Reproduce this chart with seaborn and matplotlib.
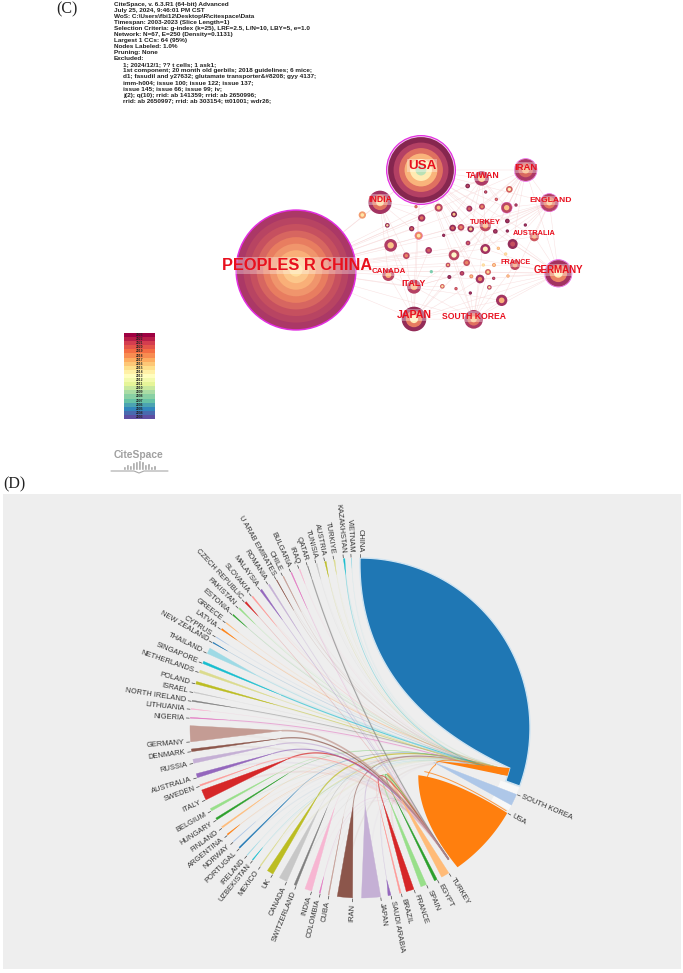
import numpy as np
import pandas as pd
import matplotlib
matplotlib.use('Agg')
import matplotlib.pyplot as plt
from matplotlib.colors import LinearSegmentedColormap
import seaborn as sns

# panel C header text
info_lines = ['CiteSpace, v. 6.3.R1 (64-bit) Advanced', 'July 25, 2024, 9:46:01 PM CST',
              'WoS: C:\\Users\\fbi12\\Desktop\\R\\citespace\\Data', 'Timespan: 2003-2023 (Slice Length=1)',
              'Selection Criteria: g-index (k=25), LRF=2.5, L/N=10, LBY=5, e=1.0',
              'Network: N=67, E=250 (Density=0.1131)', 'Largest 1 CCs: 64 (95%)', 'Nodes Labeled: 1.0%',
              'Pruning: None', 'Excluded:']
excluded_lines = ['1; 2024/12/1; ?? t cells; 1 ask1;',
                  '1st component; 20 month old gerbils; 2018 guidelines; 6 mice;',
                  'd1; fasudil and y27632; glutamate transporter&#8208; gyy 4137;',
                  'imm-h004; issue 100; issue 122; issue 137;',
                  'issue 145; issue 66; issue 99; iv;',
                  'j(2); q(10); rrid: ab 141359; rrid: ab 2650996;',
                  'rrid: ab 2650997; rrid: ab 303154; tt01001; wdr26;']

# network nodes, read in a 1200x660 frame of the network area
node_x = [258, 633, 510, 815, 947, 1018, 1045, 612, 791, 612, 535, 915, 973, 826,
          773, 827, 859, 898, 890, 918, 816, 778, 686, 618, 457, 635, 532, 605, 626, 732,
          892, 946, 728, 753, 782, 856, 892, 701, 542, 656, 589, 774, 826, 908, 865, 732,
          887, 770, 714, 820, 852, 664, 834, 756, 718, 784, 810, 851, 894, 697, 738, 781, 838, 875]
node_y = [435, 135, 232, 160, 135, 233, 445, 582, 583, 485, 450, 420, 335, 302,
          183, 201, 223, 193, 248, 240, 245, 251, 248, 245, 270, 279, 301, 311, 332, 268,
          288, 300, 309, 307, 312, 319, 318, 331, 361, 376, 392, 354, 372, 357, 370, 390,
          387, 413, 420, 420, 420, 440, 441, 445, 456, 454, 462, 460, 453, 484, 491, 504, 487, 526]
node_r = [182, 105, 35, 22, 35, 28, 42, 37, 28, 21, 18, 15, 14, 17,
          7, 5, 5, 10, 17, 5, 9, 9, 12, 5, 11, 11, 7, 8, 12, 9,
          7, 5, 10, 10, 10, 7, 5, 5, 19, 10, 10, 7, 15, 15, 5, 16,
          5, 10, 7, 5, 6, 5, 9, 7, 6, 6, 13, 5, 5, 7, 5, 5, 7, 17]
node_outer = [0.13, 0.0, 0.1, 0.14, 0.14, 0.17, 0.1, 0.05, 0.14, 0.17, 0.2, 0.22, 0.27, 0.22,
              0.0, 0.05, 0.2, 0.3, 0.2, 0.05, 0.2, 0.1, 0.2, 0.3, 0.45, 0.1, 0.05, 0.05, 0.4, 0.0,
              0.0, 0.0, 0.05, 0.2, 0.05, 0.0, 0.0, 0.0, 0.15, 0.12, 0.2, 0.12, 0.1, 0.05, 0.5, 0.2,
              0.58, 0.25, 0.2, 0.6, 0.45, 0.95, 0.3, 0.1, 0.0, 0.4, 0.1, 0.1, 0.45, 0.3, 0.2, 0.0, 0.2, 0.1]
node_inner = [0.62, 0.85, 0.6, 0.55, 0.5, 0.55, 0.68, 0.7, 0.55, 0.5, 0.5, 0.45, 0.45, 0.5,
              0.2, 0.3, 0.4, 0.7, 0.55, 0.2, 0.4, 0.3, 0.55, 0.35, 0.65, 0.35, 0.62, 0.3, 0.66, 0.55,
              0.1, 0.1, 0.3, 0.4, 0.55, 0.15, 0.1, 0.1, 0.55, 0.3, 0.4, 0.3, 0.7, 0.25, 0.6, 0.75,
              0.64, 0.4, 0.5, 0.66, 0.6, 0.98, 0.6, 0.25, 0.1, 0.55, 0.4, 0.3, 0.6, 0.65, 0.35, 0.1, 0.66, 0.5]
purple_nodes = [0, 1, 4, 5, 6, 18, 28]

net_labels = ['PEOPLES R CHINA', 'USA', 'INDIA', 'TAIWAN', 'IRAN', 'ENGLAND', 'GERMANY', 'JAPAN',
              'SOUTH KOREA', 'ITALY', 'CANADA', 'FRANCE', 'AUSTRALIA', 'TURKEY']
label_x = [260, 636, 510, 817, 949, 1021, 1046, 614, 792, 612, 537, 917, 973, 827]
label_y = [422, 122, 224, 151, 127, 226, 435, 571, 575, 477, 441, 412, 326, 292]
label_pt = [11.8, 9.6, 6.2, 6.2, 6.8, 6.1, 7, 7.6, 6.2, 6.4, 5.7, 5.2, 5.3, 5.4]

# which node links to which, hand picked along the visible edges
hub_links = {
    0: [1, 2, 3, 4, 5, 6, 7, 8, 9, 10, 11, 12, 13, 22, 25, 27, 29, 32, 38, 39, 40, 42, 45, 47, 52, 56, 63],
    1: [2, 3, 4, 5, 6, 7, 8, 9, 11, 12, 13, 18, 20, 21, 29, 33, 42, 45, 47, 56],
    4: [5, 6, 13, 17, 18, 20, 30, 32, 34, 35, 42, 43],
    5: [6, 12, 13, 18, 30, 31, 34, 35, 42, 43, 45, 63],
    6: [7, 8, 11, 12, 13, 42, 43, 45, 52, 56, 58, 62, 63],
    7: [8, 9, 10, 38, 40, 45, 47, 56, 59, 63],
    8: [9, 11, 13, 45, 52, 56, 60, 61, 62, 63],
    2: [10, 25, 26, 27, 38, 40, 23],
    3: [13, 14, 15, 16, 18, 21, 29, 34],
    13: [32, 33, 34, 41, 42, 45, 47, 48],
    9: [10, 38, 39, 48, 53, 54, 59],
}

# colour bar years
years = list(range(2023, 2002, -1))
logo_heights = [4, 6, 5, 8, 9, 10, 9, 6, 7, 4, 5]

# panel D, angles run clockwise from the top, in degrees
countries = ['CHINA', 'SOUTH KOREA', 'USA', 'TURKEY', 'EGYPT', 'SPAIN', 'FRANCE', 'BRAZIL', 'SAUDI ARABIA',
             'JAPAN', 'IRAN', 'CUBA', 'COLOMBIA', 'INDIA', 'SWITZERLAND', 'CANADA', 'UK', 'MEXICO',
             'UZBEKISTAN', 'IRELAND', 'PORTUGAL', 'NORWAY', 'ARGENTINA', 'FINLAND', 'HUNGARY', 'BELGIUM',
             'ITALY', 'SWEDEN', 'AUSTRALIA', 'RUSSIA', 'DENMARK', 'GERMANY', 'NIGERIA', 'LITHUANIA',
             'NORTH IRELAND', 'ISRAEL', 'POLAND', 'NETHERLANDS', 'SINGAPORE', 'THAILAND', 'NEW ZEALAND',
             'CYPRUS', 'LATVIA', 'GREECE', 'ESTONIA', 'PAKISTAN', 'CZECH REPUBLIC', 'SLOVAKIA', 'MALAYSIA',
             'ROMANIA', 'U ARAB EMIRATES', 'CHILE', 'BULGARIA', 'IRAQ', 'QATAR', 'TUNISIA', 'AUSTRIA',
             'TURKIYE', 'KAZAKHSTAN', 'VIETNAM']
start_angle = [0, 113, 120, 148.5, 153, 157, 161.5, 166, 169.5, 173, 182.5, 190.5, 193.5, 196.5, 202, 205.5,
               210.8, 215.7, 219, 221.5, 225, 228, 231, 234, 237.3, 240.8, 245, 250, 253, 258, 262, 265.3,
               273.3, 276.3, 279, 282, 285, 289, 292.3, 296, 300, 302.2, 305.3, 308, 311.5, 314.5, 317.4,
               320.5, 324, 327.3, 330.5, 333, 336, 339, 342, 345, 348, 351.1, 354.4, 357]
span = [110, 4, 25, 2.8, 1, 2, 2.7, 0.5, 1.0, 6.5, 5.2, 0.3, 0.4, 2.4, 0.8, 2.8, 2.2, 0.3, 0.3, 0.2, 0.4, 0.2,
        0.4, 0.5, 0.7, 0.9, 3.6, 0.5, 1.4, 1.4, 0.9, 5.5, 0.3, 0.3, 0.4, 0.3, 0.9, 0.9, 0.8, 2.0, 0.3, 0.2, 0.5,
        0.3, 0.4, 0.5, 0.6, 0.4, 0.7, 0.5, 0.2, 0.3, 0.3, 0.3, 0.2, 0.4, 0.5, 0.4, 0.5, 0.2]
stub_radius = [0, 81, 75, 81, 80, 78, 78, 84, 154, 78, 78, 90, 153, 84, 86, 91, 79, 130, 154, 150, 87, 140,
               154, 111, 85, 94, 78, 110, 90, 85, 80, 78, 130, 150, 125, 135, 86, 86, 85, 115, 153, 155, 151,
               154, 151, 147, 151, 131, 133, 110, 135, 130, 130, 154, 155, 154, 154, 155, 154, 160]
link_angle = [0, 0, 0, 146, 146, 146, 146, 146, 146, 107, 107, 146, 146, 107, 107, 106, 106, 106, 107, 106,
              106, 107, 106, 106, 107, 107, 146, 146, 146, 146, 146, 146, 108, 106, 107, 105, 108, 108, 107, 108,
              107, 106, 106, 108, 107, 106, 146, 108, 146, 146, 107, 108, 146, 108, 146, 107, 108, 106, 108, 106]
link_width = [0, 0, 0, 1.2, 0.7, 0.8, 0.8, 0.4, 0.3, 0.7, 0.7, 0.3, 0.3, 0.4, 0.4, 0.4, 0.9, 0.7, 0.3, 0.3,
              0.5, 0.3, 0.3, 0.4, 0.4, 0.5, 0.9, 0.8, 0.8, 0.9, 0.9, 1.2, 0.7, 0.3, 0.6, 0.3, 0.6, 0.6, 0.8, 0.7,
              0.3, 0.3, 0.4, 0.3, 0.3, 0.4, 0.3, 0.4, 0.4, 0.5, 0.3, 0.4, 0.4, 0.3, 0.8, 0.3, 0.3, 0.3, 0.5, 0.3]

CX, CY, R = 360, 728, 170

sns.set_theme(style='white')
plt.rcParams['font.family'] = ['Liberation Sans', 'DejaVu Sans']

fig = plt.figure(figsize=(6.83, 9.73), dpi=100)
W, H = 683, 973


def axes_at(x0, y0, x1, y1):
    a = fig.add_axes([x0 / W, 1 - y1 / H, (x1 - x0) / W, (y1 - y0) / H])
    a.patch.set_alpha(0)
    return a


ax = axes_at(0, 0, W, H)
ax.add_patch(plt.Rectangle((2.5, 494), 678.5, 475, color='#eeeeee', lw=0, zorder=0))

# header
ax.text(56, 9.5, '(C)', family='Liberation Serif', fontsize=11.5, color='#222222', va='center')
ax.text(3, 484, '(D)', family='Liberation Serif', fontsize=11.5, color='#222222', va='center')
for i, line in enumerate(info_lines):
    ax.text(114, 4.7 + i * 5.98, line, fontsize=4.62, weight='bold', color='#222222', va='center')
for i, line in enumerate(excluded_lines):
    ax.text(123, 64.5 + i * 6.1, line, fontsize=4.62, weight='bold', color='#222222', va='center')


# chord diagram
def polar(theta, r):
    t = np.radians(theta)
    return CX + r * np.sin(t), CY - r * np.cos(t)


def quad(p0, p1, ctrl=(CX, CY), n=60):
    t = np.linspace(0, 1, n)[:, None]
    p0, p1, ctrl = np.array(p0), np.array(p1), np.array(ctrl)
    return (1 - t) ** 2 * p0 + 2 * t * (1 - t) * ctrl + t ** 2 * p1


def arc(a0, a1, r, n=80):
    t = np.linspace(a0, a1, n)
    return np.column_stack(polar(t, r))


palette = sns.color_palette('tab20', 20)
colors = [palette[i % 20] for i in range(len(countries))]

# pale links first
for i, name in enumerate(countries):
    if link_width[i] == 0:
        continue
    mid = start_angle[i] + span[i] / 2
    end_r = 158 if link_angle[i] == 146 else 150
    pts = quad(polar(mid, stub_radius[i]), polar(link_angle[i], end_r))
    sns.lineplot(x=pts[:, 0], y=pts[:, 1], sort=False, estimator=None, color=colors[i],
                 lw=link_width[i], alpha=min(0.75, link_width[i] * 0.8), ax=ax, zorder=3)
    pts = quad(polar(mid, R - 4), polar(link_angle[i], end_r))
    sns.lineplot(x=pts[:, 0], y=pts[:, 1], sort=False, estimator=None, color=colors[i],
                 lw=link_width[i] * 1.5, alpha=0.07, ax=ax, zorder=2)

# China self ribbon with notch for the USA link
outer = arc(0, 110, R)
notch = arc(110, 105, 155)
back = quad(polar(105, 155), polar(0, R), ctrl=(CX - 3, CY - 30))
china = np.vstack([outer, notch, back])
ax.fill(china[:, 0], china[:, 1], color=colors[0], ec='#cfe4f2', lw=1.0, zorder=4)

# pale gap behind South Korea
gap = np.vstack([arc(110.5, 119, R), arc(119, 110.5, 150)])
ax.fill(gap[:, 0], gap[:, 1], color='#f8f8f8', lw=0, zorder=3)

# USA wedge, thin outline and USA-China link
tip = polar(129, 75)
edge_a = quad(polar(120, R), tip, ctrl=polar(118.7, 108))
edge_b = quad(tip, polar(145, R), ctrl=polar(147.5, 108))
usa = np.vstack([arc(145, 120, R), edge_a, edge_b])
ax.fill(usa[:, 0], usa[:, 1], color=colors[2], lw=0, zorder=4)
loop_a = quad(polar(144, R - 5), polar(116, 84), ctrl=polar(140, 76))
loop_b = quad(polar(116, 84), polar(106, 153), ctrl=polar(108, 82))
loop_c = quad(polar(119.5, R - 2), polar(124, 78), ctrl=polar(118, 106))
for p in (loop_a, loop_b, loop_c):
    sns.lineplot(x=p[:, 0], y=p[:, 1], sort=False, estimator=None, color=colors[2], lw=0.7, alpha=0.75,
                 ax=ax, zorder=5)
link = np.vstack([arc(105, 108, 155), [polar(114, 80)]])
ax.fill(link[:, 0], link[:, 1], color=colors[2], lw=0, zorder=5)

# the other sectors taper off towards the middle
for i, name in enumerate(countries):
    if name in ('CHINA', 'USA'):
        continue
    a0, a1 = start_angle[i], start_angle[i] + span[i]
    pts = np.vstack([arc(a0, a1, R, n=12), [polar((a0 + a1) / 2, stub_radius[i])]])
    ax.fill(pts[:, 0], pts[:, 1], color=colors[i], ec=colors[i], lw=0.25, zorder=6)

# ticks and labels
for i, name in enumerate(countries):
    theta = start_angle[i]
    x0, y0 = polar(theta, R + 1)
    x1, y1 = polar(theta, R + 4)
    ax.plot([x0, x1], [y0, y1], color='#444444', lw=0.5, zorder=6)
    tx, ty = polar(theta, R + 6)
    if 0 < theta <= 180:
        rot, ha = 90 - theta, 'left'
    else:
        # China sits at the very top and reads downwards like its left neighbours
        rot, ha = (270 - theta if theta > 0 else -90), 'right'
    ax.text(tx, ty, name, fontsize=5.4, color='#333333', rotation=rot, ha=ha, va='center',
            rotation_mode='anchor', zorder=7)

# CiteSpace logo text and base lines
ax.text(139, 455, 'CiteSpace', fontsize=7.4, weight='bold', color='#a0a0a0', ha='center', va='center')
ax.plot([111, 134, 139, 144, 168], [471, 471, 473, 471, 471], color='#a8a8a8', lw=0.8)

ax.set_xlim(0, W)
ax.set_ylim(H, 0)
ax.axis('off')

# network
net = axes_at(210, 125, 610, 345)
edge_rows = []
for hub, targets in hub_links.items():
    for t in targets:
        edge_rows.append({'edge': f'{hub}-{t}', 'x': node_x[hub], 'y': node_y[hub]})
        edge_rows.append({'edge': f'{hub}-{t}', 'x': node_x[t], 'y': node_y[t]})
edges = pd.DataFrame(edge_rows)
sns.lineplot(data=edges, x='x', y='y', units='edge', estimator=None, sort=False, color='#f6d2d2',
             lw=0.35, alpha=0.7, legend=False, ax=net, zorder=1)

ring_cmap = LinearSegmentedColormap.from_list(
    'rings', ['#86264f', '#aa3766', '#c6505f', '#e87c60', '#f9b078', '#ffe0a0', '#fff7c8', '#a8dcb0', '#70c8b0'])
ring_rows = []
for i in range(len(node_x)):
    px_r = node_r[i] / 3
    if i in purple_nodes:
        ring_rows.append({'x': node_x[i], 'y': node_y[i], 'd': px_r, 'c': '#e22ee0'})
        if node_r[i] < 150:
            ring_rows.append({'x': node_x[i], 'y': node_y[i], 'd': px_r * 0.965, 'c': '#f6c8f0'})
            px_r *= 0.94
        else:
            px_r *= 0.975
    n = max(2, int(px_r / 8) + 2)
    for k in range(n):
        tone = node_outer[i] + (node_inner[i] - node_outer[i]) * k / (n - 1)
        ring_rows.append({'x': node_x[i], 'y': node_y[i], 'd': px_r * (1 - k / n),
                          'c': matplotlib.colors.to_hex(ring_cmap(tone))})
rings = pd.DataFrame(ring_rows)
rings['key'] = rings['d'].round(3)
size_map = {k: (2 * k * 0.72) ** 2 for k in rings['key'].unique()}
sns.scatterplot(data=rings, x='x', y='y', hue='c', size='key', palette={c: c for c in rings['c'].unique()},
                sizes=size_map, linewidth=0, legend=False, ax=net, zorder=2)

for name, x, y, pt in zip(net_labels, label_x, label_y, label_pt):
    net.text(x, y, name, color='#e8101e', fontsize=pt, weight='bold', ha='center', va='center', zorder=3,
             bbox=dict(facecolor='white', edgecolor='none', alpha=0.33, pad=0.6))
net.set_xlim(0, 1200)
net.set_ylim(660, 0)
net.axis('off')

# colour bar
bar_ax = axes_at(124, 333, 155, 419)
sns.heatmap(np.array(years).reshape(-1, 1), cmap='Spectral_r', cbar=False, xticklabels=False, yticklabels=False,
            ax=bar_ax)
for i, year in enumerate(years):
    bar_ax.text(0.5, i + 0.5, str(year), fontsize=2.4, weight='bold', color='#222222', ha='center', va='center')

# logo buildings
logo_ax = axes_at(123, 460, 156, 470)
sns.barplot(x=list(range(len(logo_heights))), y=logo_heights, color='#a0a0a0', width=0.92, saturation=1, ax=logo_ax)
logo_ax.set_ylim(0, 10)
logo_ax.axis('off')

fig.savefig('out.png', dpi=100)
